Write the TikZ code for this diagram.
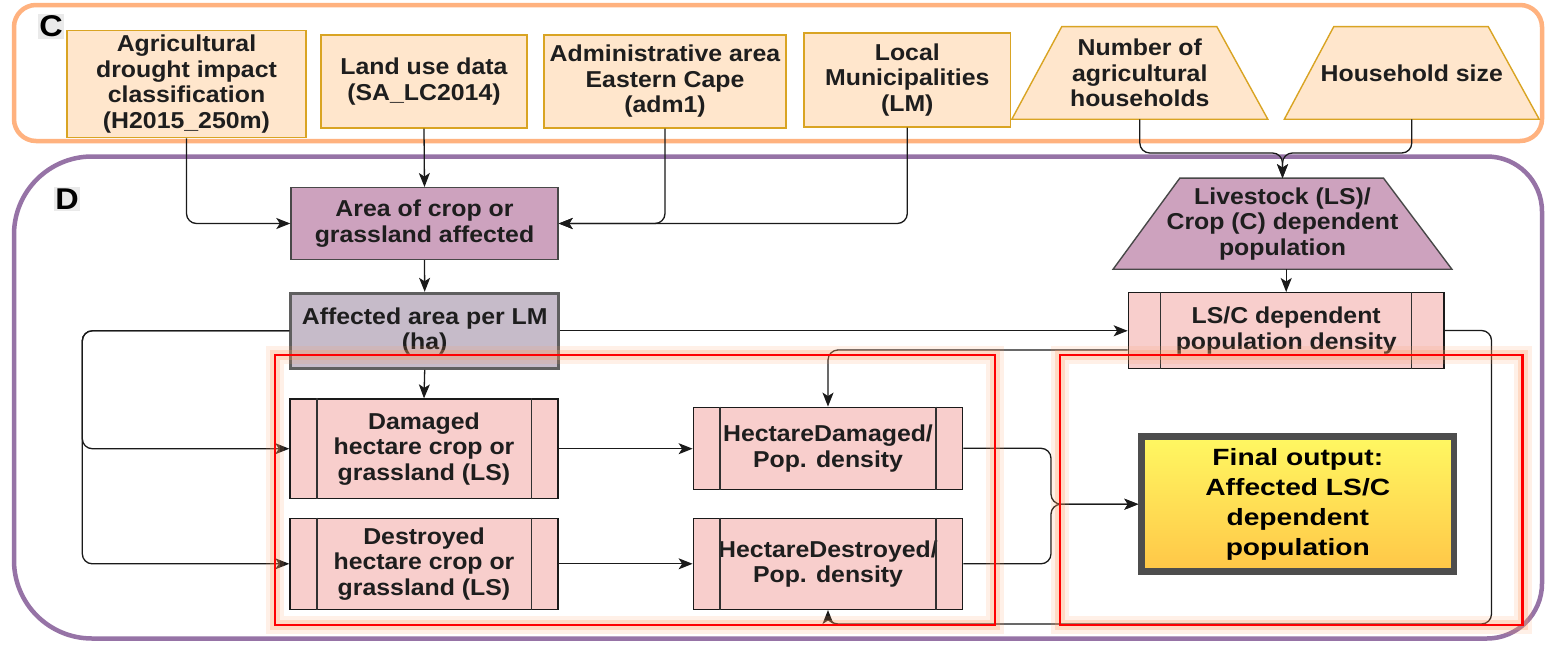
\documentclass[tikz,border=0pt]{standalone}
\usepackage{fontspec}
\setmainfont{Liberation Sans}[FakeStretch=1.08]
\newfontfamily\finalfont{Liberation Sans}[FakeStretch=1.2]
\usetikzlibrary{arrows.meta,calc}
\pgfdeclarelayer{bg}
\pgfdeclarelayer{fg}
\pgfsetlayers{bg,main,fg}
\definecolor{txt}{HTML}{1E1E1E}
\definecolor{orframe}{HTML}{FFB27F}
\definecolor{puframe}{HTML}{9673A6}
\definecolor{infill}{HTML}{FFE6CC}
\definecolor{inborder}{HTML}{D9A423}
\definecolor{mauve}{HTML}{CDA2BE}
\definecolor{greymauve}{HTML}{C6BBC9}
\definecolor{procfill}{HTML}{F8CECC}
\definecolor{edge}{HTML}{1A1A1A}
\definecolor{glow}{HTML}{FF9A5C}
\definecolor{finalborder}{HTML}{4D4D4D}
\definecolor{labelbg}{HTML}{EAEAEA}
\definecolor{finaltop}{HTML}{FFF862}
\definecolor{finalbot}{HTML}{FFC647}
\begin{document}
\begin{tikzpicture}[x=1pt,y=-1pt,
  lbl/.style={font=\fontsize{23}{25.5}\selectfont\bfseries, text=txt, align=center, inner sep=0pt},
  inbox/.style={lbl, draw=inborder, fill=infill, line width=1.4pt},
  trap/.style={lbl},
  trapfill/.style={draw=inborder, fill=infill, line width=1.4pt, line join=miter},
  mauvefill/.style={draw=edge!80, fill=mauve, line width=1.4pt, line join=miter},
  mauvebox/.style={lbl, draw=edge!80, fill=mauve, line width=1.4pt},
  procbox/.style={lbl, draw=edge, fill=procfill, line width=1.4pt},
  procline/.style={draw=edge!90, line width=1.4pt},
  conn/.style={draw=edge, line width=1.3pt, rounded corners=10pt},
  arr/.style={conn, -{Stealth[length=14pt,width=11pt,inset=3.5pt]}},
  frametag/.style={font=\fontsize{30}{30}\selectfont\bfseries, text=black, fill=labelbg, inner sep=1.5pt},
  redbox/.style={draw=red, line width=2.6pt, preaction={draw=glow, draw opacity=0.14, line width=18pt}, preaction={draw=glow, draw opacity=0.25, line width=10pt}},
  finalbox/.style={draw=finalborder, line width=6.5pt, top color=finaltop, bottom color=finalbot, align=center, font=\finalfont\fontsize{23.5}{30}\selectfont\bfseries, text=black, inner sep=0pt}
]
\useasboundingbox (0,0) rectangle (1545,645);
\begin{pgfonlayer}{bg}
\fill[white] (0,0) rectangle (1545,645);
\draw[orframe, line width=4.5pt, rounded corners=22pt] (14,5) rectangle (1542,141);
\draw[puframe, line width=4.5pt] (14,400) [rounded corners=78pt] -- (14,156.5) -- (780,156.5) [rounded corners=55pt] -- (1542,156.5) -- (1542,638.5) -- (780,638.5) [rounded corners=78pt] -- (14,638.5) -- cycle;
\end{pgfonlayer}

\node[frametag] (tagC) at (51,26.5) {C};
\node[frametag] (tagD) at (67,199) {D};

\node[inbox, minimum width=239pt, minimum height=107pt] (agri) at (186.5,84.2) {Agricultural\\drought impact\\classification\\(H2015\_250m)};
\node[inbox, minimum width=206pt, minimum height=93pt] (land) at (424,81.5) {Land use data\\(SA\_LC2014)};
\node[inbox, minimum width=242pt, minimum height=93pt] (admin) at (665,81.5) {Administrative area\\Eastern Cape\\(adm1)};
\node[inbox, minimum width=206.7pt, minimum height=94pt] (lm) at (907.3,80) {Local\\Municipalities\\(LM)};
\node[trap, minimum width=255.6pt, minimum height=92.3pt] (num) at (1139.8,72.9) {Number of\\agricultural\\households};
\node[trap, minimum width=254.5pt, minimum height=92.3pt] (hh) at (1411.75,72.9) {Household size};
\node[trap, minimum width=338.4pt, minimum height=90.7pt] (liv) at (1282.5,223.7) {Livestock (LS)/\\Crop (C) dependent\\population};

\begin{pgfonlayer}{bg}
\path[trapfill] (num.south west) -- ($(num.north west)+(50,0)$) -- ($(num.north east)+(-51,0)$) -- (num.south east) -- cycle;
\path[trapfill] (hh.south west) -- ($(hh.north west)+(49.5,0)$) -- ($(hh.north east)+(-51,0)$) -- (hh.south east) -- cycle;
\path[mauvefill] (liv.south west) -- ($(liv.north west)+(66.7,0)$) -- ($(liv.north east)+(-68.4,0)$) -- (liv.south east) -- cycle;
\end{pgfonlayer}

\node[mauvebox, minimum width=267pt, minimum height=71.6pt] (area) at (424.5,223.5) {Area of crop or\\grassland affected};
\node[lbl, draw=finalborder!90, fill=greymauve, line width=3pt, minimum width=267.5pt, minimum height=75pt] (affected) at (424.7,330.8) {Affected area per LM\\(ha)};
\node[procbox, minimum width=268pt, minimum height=99.3pt] (damaged) at (424,448.7) {Damaged\\hectare crop or\\grassland (LS)};
\node[procbox, minimum width=268pt, minimum height=91pt] (destroyed) at (424,563.8) {Destroyed\\hectare crop or\\grassland (LS)};
\node[procbox, minimum width=269.4pt, minimum height=82pt] (hd) at (828,448.3) {HectareDamaged/\\Pop. density};
\node[procbox, minimum width=269.4pt, minimum height=91pt] (hdes) at (828,563.8) {HectareDestroyed/\\Pop. density};
\node[procbox, minimum width=315.7pt, minimum height=75.6pt] (lsc) at (1286.2,330.5) {LS/C dependent\\population density};
\node[finalbox, minimum width=312.4pt, minimum height=135pt] (final) at (1297.8,504.2) {Final output:\\Affected LS/C\\dependent\\population};

\foreach \n/\o in {damaged/27.5,destroyed/27.5,hd/27.5,hdes/27.5,lsc/33}{
  \draw[procline] ($(\n.north west)+(\o,0)$) -- ($(\n.south west)+(\o,0)$);
  \draw[procline] ($(\n.north east)+(-\o,0)$) -- ($(\n.south east)+(-\o,0)$);
}

\coordinate (j1) at (1282.5,153);
\coordinate (lbus) at (82.3,330.8);
\coordinate (loopc) at (1491.5,624);
\coordinate (j2) at (1051,504.2);
\coordinate (yref) at (0,350);

\draw[arr] (agri.south) |- (area.west);
\draw[arr] (land.south) -- (area.north);
\draw[arr] (admin.south) |- (area.east);
\draw[arr] (lm.south) |- (area.east);
\draw[arr] (num.south) |- (j1) -- (liv.north);
\draw[arr] (hh.south) |- (j1) -- (liv.north);
\draw[arr] (area.south) -- (affected.north);
\draw[arr] (liv.south -| lsc.north) -- (lsc.north);
\draw[arr] (affected.east) -- (affected.east -| lsc.west);
\draw[arr] (affected.south) -- (damaged.north);
\draw[arr] (affected.west) -- (lbus) |- (damaged.west);
\draw[arr] (affected.west) -- (lbus) |- (destroyed.west);
\draw[arr] (damaged.east) -- (damaged.east -| hd.west);
\draw[arr] (destroyed.east) -- (destroyed.east -| hdes.west);
\draw[arr] (lsc.west |- yref) -| (hd.north);
\draw[arr] (lsc.east) -| (loopc) -| (hdes.south);
\draw[arr] (hd.east) -| (j2) -- (final.west);
\draw[arr] (hdes.east) -| (j2) -- (final.west);

\begin{pgfonlayer}{fg}
\draw[redbox] (275,355) rectangle (995,625);
\draw[redbox] (1060,355) rectangle (1522.5,625);
\end{pgfonlayer}
\end{tikzpicture}
\end{document}
